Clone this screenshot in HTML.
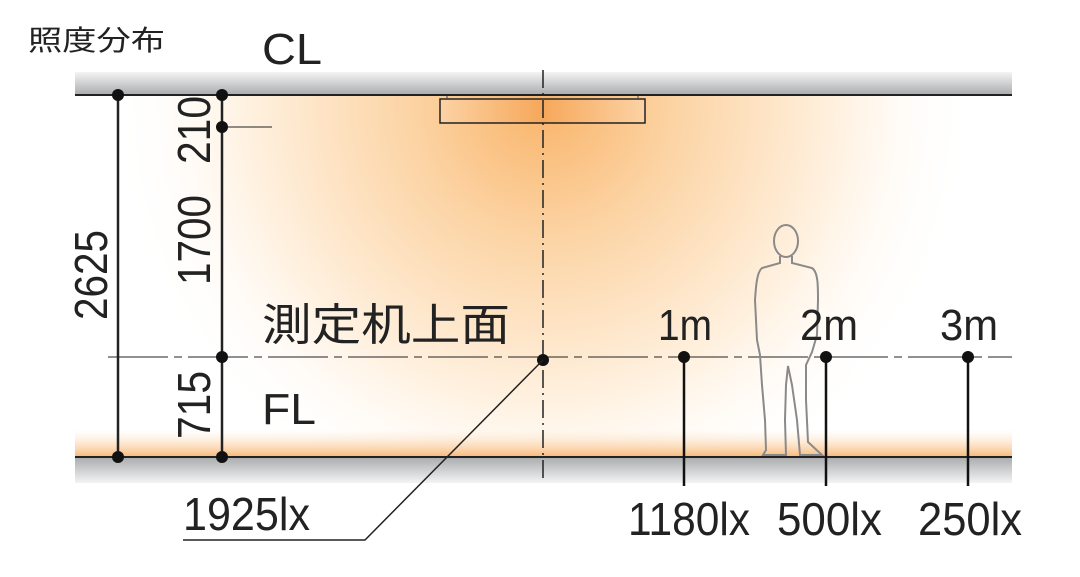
<!DOCTYPE html>
<html><head><meta charset="utf-8"><style>
html,body{margin:0;padding:0;background:#fff;width:1080px;height:577px;overflow:hidden}
text{font-family:"Liberation Sans","Noto Sans CJK JP",sans-serif;fill:#222}
</style></head><body>
<svg width="1080" height="577" viewBox="0 0 1080 577" xmlns="http://www.w3.org/2000/svg">
<defs>
<radialGradient id="glow" cx="543" cy="105" r="430" gradientUnits="userSpaceOnUse">
<stop offset="0" stop-color="#f9b46a"/>
<stop offset="0.3" stop-color="#fcd3a3"/>
<stop offset="0.7" stop-color="#fff2e2"/>
<stop offset="1" stop-color="#ffffff" stop-opacity="0"/>
</radialGradient>
<linearGradient id="ceil" x1="0" y1="0" x2="0" y2="1">
<stop offset="0" stop-color="#f4f4f4"/><stop offset="1" stop-color="#a9abad"/>
</linearGradient>
<linearGradient id="flr" x1="0" y1="0" x2="0" y2="1">
<stop offset="0" stop-color="#a9abad"/><stop offset="1" stop-color="#f4f4f4"/>
</linearGradient>
<linearGradient id="fband" x1="0" y1="0" x2="0" y2="1">
<stop offset="0" stop-color="#fde3c6" stop-opacity="0"/><stop offset="1" stop-color="#f8b878"/>
</linearGradient>
<linearGradient id="fix" x1="0" y1="0" x2="1" y2="0">
<stop offset="0" stop-color="#fcd2a5"/><stop offset="0.5" stop-color="#f6a85a"/><stop offset="1" stop-color="#fcd2a5"/>
</linearGradient>
</defs>
<rect x="75" y="95" width="937" height="362" fill="url(#glow)"/>
<rect x="75" y="430" width="937" height="27" fill="url(#fband)"/>
<rect x="75" y="72" width="937" height="23" fill="url(#ceil)"/>
<rect x="75" y="457" width="937" height="26" fill="url(#flr)"/>
<line x1="75" y1="95" x2="1012" y2="95" stroke="#222" stroke-width="2"/>
<line x1="75" y1="457" x2="1012" y2="457" stroke="#222" stroke-width="2"/>
<rect x="440" y="99" width="205" height="24" fill="url(#fix)" stroke="#222" stroke-width="1.5"/>
<line x1="447" y1="96" x2="447" y2="99" stroke="#444"/><line x1="638" y1="96" x2="638" y2="99" stroke="#444"/>
<line x1="543" y1="70" x2="543" y2="483" stroke="#222" stroke-width="1.5" stroke-dasharray="18,5,2,5"/>
<line x1="108" y1="357" x2="1012" y2="357" stroke="#222" stroke-width="1" stroke-dasharray="60,6,8,6"/>
<line x1="118" y1="95" x2="118" y2="457" stroke="#222" stroke-width="2.5"/>
<line x1="222" y1="95" x2="222" y2="457" stroke="#222" stroke-width="2.5"/>
<line x1="222" y1="127" x2="272" y2="127" stroke="#222" stroke-width="1"/>
<g fill="#111">
<circle cx="118" cy="95" r="6"/><circle cx="118" cy="457" r="6"/>
<circle cx="222" cy="95" r="6"/><circle cx="222" cy="127" r="6"/><circle cx="222" cy="357" r="6"/><circle cx="222" cy="457" r="6"/>
<circle cx="543" cy="360" r="6"/><circle cx="684" cy="357" r="6"/><circle cx="826" cy="357" r="6"/><circle cx="968" cy="357" r="6"/>
</g>
<g stroke="#111" stroke-width="2.5">
<line x1="684" y1="357" x2="684" y2="486"/><line x1="826" y1="357" x2="826" y2="486"/><line x1="968" y1="357" x2="968" y2="486"/>
</g>
<polyline points="543,360 365,540 183,540" fill="none" stroke="#222" stroke-width="1.5"/>
<!-- person -->
<g fill="none" stroke="#8a8a8a" stroke-width="2">
<ellipse cx="786" cy="241" rx="12" ry="16"/>
<path d="M780,256 L780,263 L762,268 C757,272 756,285 755,300 L757,340 L760,355 L762,385 L765,420 L766,450 L763,455 L786,455 L785,420 L786,385 L788,366 L792,385 L797,420 L800,455 L822,455 L808,442 L806,400 L806,365 L812,352 L817,335 L818,300 C818,285 818,272 812,268 L792,263 L792,256"/>
</g>
<text x="28" y="50" font-size="28" textLength="137" lengthAdjust="spacingAndGlyphs">照度分布</text>
<text x="262" y="64" font-size="44" textLength="60" lengthAdjust="spacingAndGlyphs">CL</text>
<text transform="translate(107,275) rotate(-90)" font-size="46" text-anchor="middle" textLength="90" lengthAdjust="spacingAndGlyphs">2625</text>
<text transform="translate(210,130) rotate(-90)" font-size="46" text-anchor="middle" textLength="68" lengthAdjust="spacingAndGlyphs">210</text>
<text transform="translate(210,240) rotate(-90)" font-size="46" text-anchor="middle" textLength="90" lengthAdjust="spacingAndGlyphs">1700</text>
<text transform="translate(210,405) rotate(-90)" font-size="46" text-anchor="middle" textLength="68" lengthAdjust="spacingAndGlyphs">715</text>
<text x="262" y="340" font-size="44" textLength="248" lengthAdjust="spacingAndGlyphs">測定机上面</text>
<text x="262" y="424" font-size="44" textLength="54" lengthAdjust="spacingAndGlyphs">FL</text>
<text x="658" y="340" font-size="44" textLength="54" lengthAdjust="spacingAndGlyphs">1m</text>
<text x="800" y="340" font-size="44" textLength="58" lengthAdjust="spacingAndGlyphs">2m</text>
<text x="940" y="340" font-size="44" textLength="58" lengthAdjust="spacingAndGlyphs">3m</text>
<text x="183" y="530" font-size="46" textLength="127" lengthAdjust="spacingAndGlyphs">1925lx</text>
<text x="628" y="535" font-size="46" textLength="122" lengthAdjust="spacingAndGlyphs">1180lx</text>
<text x="777" y="535" font-size="46" textLength="105" lengthAdjust="spacingAndGlyphs">500lx</text>
<text x="918" y="535" font-size="46" textLength="104" lengthAdjust="spacingAndGlyphs">250lx</text>
</svg>
</body></html>
